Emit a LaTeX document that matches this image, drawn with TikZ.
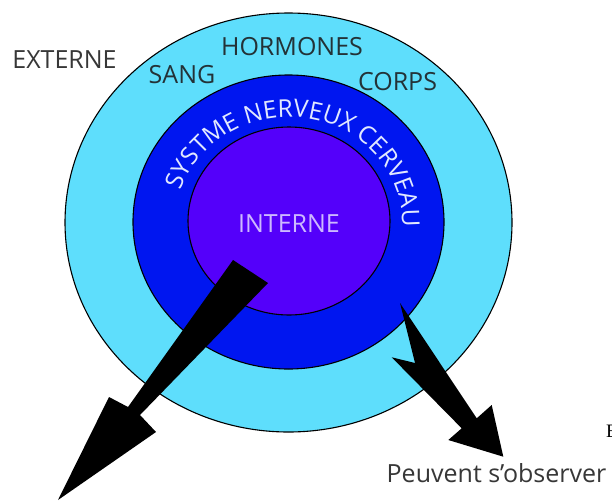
\documentclass[tikz,border=0pt]{standalone}
\usepackage{fontspec}
\setmainfont{Open Sans}
\newfontfamily\serifletter{Liberation Serif}
\usetikzlibrary{decorations.text,shapes.geometric}
\definecolor{ringcyan}{RGB}{94,222,252}
\definecolor{ringblue}{RGB}{0,22,240}
\definecolor{ringviolet}{RGB}{84,0,250}
\definecolor{labeldark}{RGB}{35,50,55}
\definecolor{labelgray}{RGB}{55,55,55}
\definecolor{interntext}{RGB}{205,185,255}
\definecolor{arctext}{RGB}{225,232,255}
\newcommand{\lblfont}{\fontsize{25}{25}\selectfont}
\newcommand{\arcfont}{\fontsize{24.5}{24.5}\selectfont}
\begin{document}
\begin{tikzpicture}[x=1pt,y=-1pt,
  ring/.style={ellipse,draw=black,line width=1.1pt,inner sep=0pt},
  lbl/.style={anchor=base,inner sep=0pt,font=\lblfont,text=labeldark},
  bigarrow/.style={fill=black,draw=none}]
\useasboundingbox (0,0) rectangle (612,501);
\fill[white] (0,0) rectangle (612,501);
\node[ring,fill=ringcyan,minimum width=447pt,minimum height=419pt] (outer) at (288.5,222.5) {};
\node[ring,fill=ringblue,minimum width=311pt,minimum height=294pt] (middle) at (288.5,222) {};
\node[ring,fill=ringviolet,minimum width=202pt,minimum height=188pt] (inner) at (289,221) {};
% arc text
\path[decorate,decoration={text along path,text align=center,
  text={|\arcfont\color{arctext}|SYSTME NERVEUX CERVEAU}}]
  (289,222) ++(192:113 and 105) arc[start angle=192,end angle=368,x radius=113,y radius=105];
% labels
\node[lbl,text=labelgray] (externe) at (64.5,68) {EXTERNE};
\node[lbl] (hormones) at (292,55) {HORMONES};
\node[lbl] (sang) at (182,83) {SANG};
\node[lbl] (corps) at (397.5,90) {CORPS};
\node[lbl,text=interntext] (interne) at (289,232) {INTERNE};
\node[lbl,text=labelgray] (observer) at (496.5,482) {Peuvent s’observer};
\node[anchor=base west,inner sep=0pt,font=\serifletter\fontsize{19}{19}\selectfont] (cutE) at (606,437) {E};
% arrows
\fill[bigarrow] (233,260) -- (268,283) -- (140,415) -- (156,432) -- (58,500) -- (109,397) -- (128,407) -- cycle;
\fill[bigarrow] (400,303) -- (476.7,418.3) -- (491.7,405) -- (503.3,456.7) -- (448.3,440) -- (461.7,428.3) -- (391.7,357.3) -- (415,363) -- cycle;
\end{tikzpicture}
\end{document}
